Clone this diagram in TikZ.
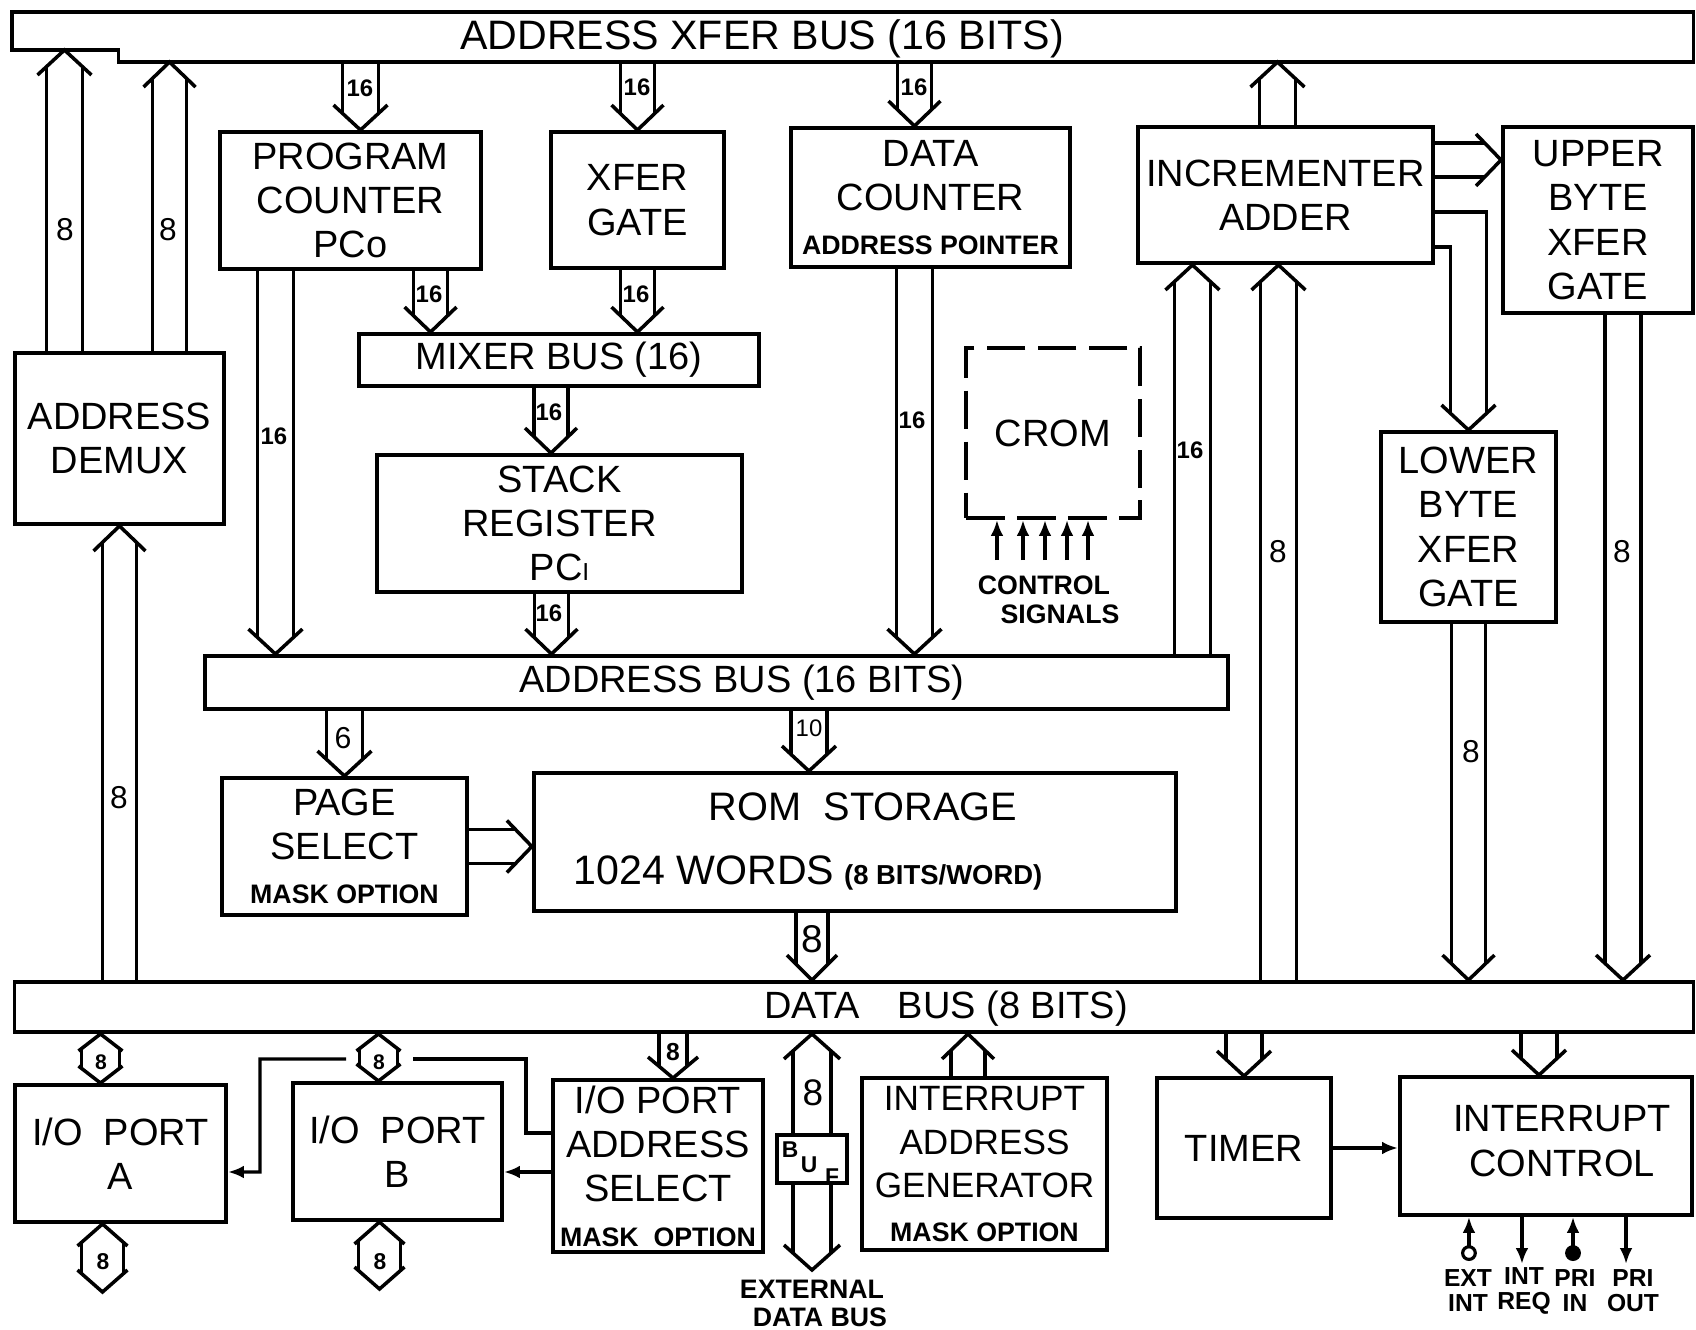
\documentclass[tikz,border=0pt]{standalone}
\usepackage{fontspec}
\setmainfont{Liberation Sans}
\usetikzlibrary{calc, arrows.meta}

\newcommand{\lbl}{\fontsize{10.8}{12.6}\selectfont}
\newcommand{\smallb}{\fontsize{7.6}{9}\selectfont\bfseries}
\newcommand{\bitfont}{\fontsize{6.8}{7}\selectfont\bfseries}
\newcommand{\numfont}{\fontsize{9}{10}\selectfont}

% fat (bus) arrows: shaft half width, head overhang, head length (px)
\newcommand{\bawx}{9}
\newcommand{\bal}{25}
\newcommand{\bushead}[3][18]{%
  \pgfmathsetlengthmacro{\baws}{#1*0.01cm}%
  \pgfmathsetlengthmacro{\bawh}{(#1+\bawx)*0.01cm}%
  \pgfmathsetlengthmacro{\bahl}{\bal*0.01cm}%
  \pgfmathsetlengthmacro{\bajl}{\bal*#1/(#1+\bawx)*0.01cm}%
  \coordinate (ba-s) at (#2);
  \coordinate (ba-t) at (#3);
  \coordinate (ba-j) at ($(ba-t)!\bajl!(ba-s)$);
  \coordinate (ba-b) at ($(ba-t)!\bahl!(ba-s)$);
  \coordinate (ba-jp) at ($(ba-j)!\baws!90:(ba-t)$);
  \coordinate (ba-jm) at ($(ba-j)!\baws!-90:(ba-t)$);
  \coordinate (ba-sp) at ($(ba-s)!\baws!90:(ba-t)$);
  \coordinate (ba-sm) at ($(ba-s)!\baws!-90:(ba-t)$);
  \draw[busline] ($(ba-b)!\bawh!90:(ba-t)$) -- (ba-t) -- ($(ba-b)!\bawh!-90:(ba-t)$);
}
\newcommand{\busarrow}[3][18]{%
  \bushead[#1]{#2}{#3}%
  \draw[busline] (ba-sp) -- (ba-jp) (ba-sm) -- (ba-jm);
}
\newcommand{\busboth}[3][18]{%
  \bushead[#1]{#2}{#3}%
  \coordinate (bb-jp) at (ba-jp);
  \coordinate (bb-jm) at (ba-jm);
  \bushead[#1]{#3}{#2}%
  \draw[busline] (bb-jp) -- (ba-jm) (bb-jm) -- (ba-jp);
}

\begin{document}
\begin{tikzpicture}[x=0.01cm, y=-0.01cm,
    box/.style={draw, line width=1.1pt, inner sep=1pt, align=center, font=\lbl},
    bus/.style={draw, line width=1.1pt, inner sep=0pt},
    buspath/.style={line width=1.1pt, line join=miter},
    busline/.style={line width=1pt, line join=miter},
    sigline/.style={line width=0.9pt},
    sigarrow/.style={sigline, -{Latex[length=4.5pt,width=3.6pt]}},
    bitlbl/.style={font=\bitfont, inner sep=0pt},
    numlbl/.style={font=\numfont, inner sep=0pt},
    smalltxt/.style={font=\smallb, inner sep=0pt, align=center}
]
\fill[white] (0,0) rectangle (1696,1330);

% ---------------- buses ----------------
\node[inner sep=0pt, outer sep=0pt, minimum width=15.74cm, minimum height=0.5cm] (xferbus) at (906,37) {};
\coordinate (xfl) at (12,50);
\draw[buspath] (xfl |- xferbus.north) -- (xferbus.north east) -- (xferbus.south east)
    -- (xferbus.south west) -- (xferbus.south west |- xfl) -- (xfl) -- cycle;
\node[font=\fontsize{11.7}{13}\selectfont, inner sep=0pt] (xfertxt) at (762,39) {ADDRESS XFER BUS (16 BITS)};

\node[bus, minimum width=10.23cm, minimum height=0.53cm] (addrbus) at (716.5,682.5) {};
\node[font=\lbl, inner sep=0pt] (abtxt) at (742,683) {ADDRESS BUS (16 BITS)};

\node[bus, minimum width=16.78cm, minimum height=0.50cm] (databus) at (854,1007) {};
\node[font=\lbl, inner sep=0pt] (dbtxt) at (946,1009) {DATA\quad BUS (8 BITS)};

% ---------------- blocks ----------------
\node[box, minimum width=2.09cm, minimum height=1.71cm] (demux) at (119.5,438.5) {ADDRESS\\DEMUX};
\node[box, minimum width=2.61cm, minimum height=1.37cm] (pc) at (350.5,200.5) {PROGRAM\\COUNTER\\PCo};
\node[box, minimum width=1.73cm, minimum height=1.36cm] (xfergate) at (637.5,200) {XFER\\GATE};
\node[box, minimum width=2.79cm, minimum height=1.39cm] (datacnt) at (930.5,197.5) {DATA\\COUNTER\\{\smallb ADDRESS POINTER}};
\node[box, minimum width=2.95cm, minimum height=1.36cm] (incr) at (1285.5,195) {INCREMENTER\\ADDER};
\node[box, minimum width=1.90cm, minimum height=1.86cm] (upper) at (1598,220) {UPPER\\BYTE\\XFER\\GATE};
\node[box, minimum width=4.00cm, minimum height=0.52cm] (mixer) at (559,360) {MIXER BUS (16)};
\node[box, minimum width=3.65cm, minimum height=1.37cm] (stack) at (559.5,523.5) {STACK\\REGISTER\\PC{\fontsize{7}{8}\selectfont I}};
\node[box, dash pattern=on 11pt off 3.5pt, minimum width=1.74cm, minimum height=1.70cm] (crom) at (1053,433) {CROM};
\node[box, minimum width=1.75cm, minimum height=1.90cm] (lower) at (1468.5,527) {LOWER\\BYTE\\XFER\\GATE};
\node[box, minimum width=2.45cm, minimum height=1.37cm] (page) at (344.5,846.5) {PAGE\\SELECT\\{\smallb MASK OPTION}};
\node[box, minimum width=6.42cm, minimum height=1.38cm] (rom) at (855,842) {};
\node[font=\fontsize{11.3}{13}\selectfont, inner sep=0pt] (romtxt) at (863,807) {ROM\ \ STORAGE};
\node[inner sep=0pt] (romwords) at (808,873) {{\fontsize{11.7}{13}\selectfont 1024 WORDS} {\fontsize{7.8}{9}\selectfont\bfseries (8 BITS/WORD)}};

\node[box, minimum width=2.11cm, minimum height=1.37cm] (portA) at (120.5,1153.5) {I/O\ \ PORT\\A};
\node[box, minimum width=2.09cm, minimum height=1.37cm] (portB) at (397.5,1151.5) {I/O\ \ PORT\\B};
\node[box, minimum width=2.10cm, minimum height=1.72cm] (iosel) at (658,1166) {I/O PORT\\ADDRESS\\SELECT\\{\smallb MASK\ \ OPTION}};
\node[box, minimum width=0.70cm, minimum height=0.48cm] (buf) at (812,1159) {};
\node[box, font=\fontsize{10}{12.4}\selectfont, minimum width=2.45cm, minimum height=1.72cm] (intgen) at (984.5,1164) {INTERRUPT\\ADDRESS\\GENERATOR\\{\smallb MASK OPTION}};
\node[box, minimum width=1.74cm, minimum height=1.40cm] (timer) at (1244,1148) {TIMER};
\node[box, minimum width=2.92cm, minimum height=1.38cm] (intctl) at (1546,1146) {};
\node[font=\lbl, align=center, inner sep=0pt] (intctltxt) at (1562,1141) {INTERRUPT\\CONTROL};

% BUF letters
\node[smalltxt, font=\fontsize{6.5}{7}\selectfont\bfseries] (bufB) at (790,1150) {B};
\node[smalltxt, font=\fontsize{6.5}{7}\selectfont\bfseries] (bufU) at (809,1165) {U};
\node[smalltxt, font=\fontsize{6.5}{7}\selectfont\bfseries] (bufF) at (832,1177) {F};

% ---------------- bus arrows, upper half ----------------
\coordinate (dmxl) at ([xshift=-0.55cm]demux.north);
\coordinate (dmxr) at ([xshift=0.5cm]demux.north);
\busarrow{dmxl}{dmxl |- xfl}
\busarrow[17]{dmxr}{dmxr |- xferbus.south}
\busarrow[17]{demux.south |- databus.north}{demux.south}

\coordinate (pcin) at ([xshift=0.1cm]pc.north);
\busarrow{pcin |- xferbus.south}{pcin}
\busarrow[17]{xfergate.north |- xferbus.south}{xfergate.north}
\coordinate (dcin) at ([xshift=-0.16cm]datacnt.north);
\busarrow[17]{dcin |- xferbus.south}{dcin}
\coordinate (incout) at ([xshift=-0.08cm]incr.north);
\busarrow{incout}{incout |- xferbus.south}

\coordinate (incr2up) at ([yshift=0.35cm]incr.east);
\busarrow[17]{incr2up}{incr2up -| upper.west}
% incrementer -> lower byte (bent)
\coordinate (il1) at ([yshift=-0.17cm]incr.east);
\coordinate (il2) at ([yshift=-0.52cm]incr.east);
\bushead{lower.north |- il1}{lower.north}
\draw[busline] (il1) -| (ba-jp);
\draw[busline] (il2) -| (ba-jm);

\coordinate (pcout) at ([xshift=-0.75cm]pc.south);
\busarrow{pcout}{pcout |- addrbus.north}
\coordinate (pcmix) at ([xshift=0.8cm]pc.south);
\busarrow[17]{pcmix}{pcmix |- mixer.north}
\busarrow[17]{xfergate.south}{xfergate.south |- mixer.north}
\coordinate (mixout) at ([xshift=-0.08cm]mixer.south);
\busarrow[17]{mixout}{mixout |- stack.north}
\coordinate (stkout) at ([xshift=-0.08cm]stack.south);
\busarrow[17]{stkout}{stkout |- addrbus.north}
\coordinate (dcout) at ([xshift=-0.16cm]datacnt.south);
\busarrow{dcout}{dcout |- addrbus.north}
\coordinate (incin) at ([xshift=-0.93cm]incr.south);
\busarrow{incin |- addrbus.north}{incin}
\coordinate (incin2) at ([xshift=-0.07cm]incr.south);
\busarrow{incin2 |- databus.north}{incin2}
\coordinate (upout) at ([xshift=0.25cm]upper.south);
\busarrow{upout}{upout |- databus.north}
\busarrow[17]{lower.south}{lower.south |- databus.north}

\busarrow{page.north |- addrbus.south}{page.north}
\coordinate (romin) at ([xshift=-0.46cm]rom.north);
\busarrow{romin |- addrbus.south}{romin}
\busarrow[17]{page.east}{page.east -| rom.west}
\coordinate (romout) at ([xshift=-0.43cm]rom.south);
\busarrow[16]{romout}{romout |- databus.north}

% CROM control signals
\foreach \dx in {-0.56,-0.30,-0.08,0.14,0.35}
    \draw[sigarrow] ([xshift=\dx cm, yshift=-0.4cm]crom.south) -- ([xshift=\dx cm]crom.south);
\node[smalltxt] (ctrl1) at (1044,585) {CONTROL};
\node[smalltxt] (ctrl2) at (1060,614) {SIGNALS};

% ---------------- bus arrows, lower half ----------------
\coordinate (pain) at ([xshift=-0.2cm]portA.north);
\coordinate (pbin) at ([xshift=-0.19cm]portB.north);
\coordinate (paout) at ([xshift=-0.18cm]portA.south);
\coordinate (paext) at ([yshift=-0.68cm]paout);
\coordinate (pbout) at ([xshift=-0.18cm]portB.south);
\coordinate (pbext) at ([yshift=-0.67cm]pbout);
{\renewcommand{\bawx}{3}\renewcommand{\bal}{17}%
 \busboth[19]{pain |- databus.south}{pain}
 \busboth[19]{pbin |- databus.south}{pbin}}
{\renewcommand{\bawx}{4}\renewcommand{\bal}{22}%
 \busboth[21]{paout}{paext}
 \busboth[21]{pbout}{pbext}}

\coordinate (iosin) at ([xshift=0.15cm]iosel.north);
{\renewcommand{\bawx}{11}\renewcommand{\bal}{21}%
 \busarrow[14]{iosin |- databus.south}{iosin}}
\busarrow[19]{buf.north}{buf.north |- databus.south}
\coordinate (bufext) at ([yshift=-0.85cm]buf.south);
\busarrow[19]{buf.south}{bufext}
\coordinate (igout) at ([xshift=-0.165cm]intgen.north);
\busarrow[17]{igout}{igout |- databus.south}
\busarrow{timer.north |- databus.south}{timer.north}
\coordinate (icin) at ([xshift=-0.07cm]intctl.north);
\busarrow{icin |- databus.south}{icin}

% I/O port select lines
\coordinate (isa) at ([yshift=0.33cm]iosel.west);
\coordinate (isb) at ([yshift=-0.06cm]iosel.west);
\coordinate (jog1) at (526,1059);
\coordinate (gapR) at (413,1059);
\coordinate (gapL) at (346,1059);
\coordinate (jog2) at (260,1172);
\draw[sigline] (isa) -| (jog1) -- (gapR);
\draw[sigarrow] (gapL) -| (jog2) -- (portA.east |- isb);
\draw[sigarrow] (isb) -- (isb -| portB.east);

\draw[sigarrow] (timer.east) -- (timer.east -| intctl.west);

% interrupt control pins
\coordinate (iext) at ([xshift=-0.77cm]intctl.south);
\coordinate (ireq) at ([xshift=-0.24cm]intctl.south);
\coordinate (ipin) at ([xshift=0.27cm]intctl.south);
\coordinate (ipout) at ([xshift=0.8cm]intctl.south);
\draw[sigline, {Circle[open,length=4.5pt]}-{Latex[length=4.5pt,width=3.6pt]}] ([yshift=-0.44cm]iext) -- (iext);
\draw[sigarrow] (ireq) -- ([yshift=-0.47cm]ireq);
\draw[sigline, {Circle[length=4.5pt]}-{Latex[length=4.5pt,width=3.6pt]}] ([yshift=-0.44cm]ipin) -- (ipin);
\draw[sigarrow] (ipout) -- ([yshift=-0.47cm]ipout);
\node[smalltxt, font=\fontsize{7}{7.1}\selectfont\bfseries] (lext) at (1468,1291) {EXT\\INT};
\node[smalltxt, font=\fontsize{7}{7.1}\selectfont\bfseries] (lreq) at (1524,1291) {INT\\REQ};
\node[smalltxt, font=\fontsize{7}{7.1}\selectfont\bfseries] (lpin) at (1575,1291) {PRI\\IN};
\node[smalltxt, font=\fontsize{7}{7.1}\selectfont\bfseries] (lpout) at (1633,1291) {PRI\\OUT};

\node[smalltxt] (ext1) at (812,1289) {EXTERNAL};
\node[smalltxt] (ext2) at (820,1317) {DATA BUS};

% ---------------- width labels ----------------
\node[numlbl] (w8a) at (65,230) {8};
\node[numlbl] (w8b) at (168,230) {8};
\node[numlbl] (w8c) at (119,798) {8};
\node[bitlbl] (w16a) at (360,88) {16};
\node[bitlbl] (w16b) at (637,87) {16};
\node[bitlbl] (w16c) at (914,87) {16};
\node[bitlbl] (w16d) at (429,294) {16};
\node[bitlbl] (w16e) at (636,294) {16};
\node[bitlbl] (w16f) at (274,436) {16};
\node[bitlbl] (w16g) at (549,412) {16};
\node[bitlbl] (w16h) at (549,613) {16};
\node[bitlbl] (w16i) at (912,420) {16};
\node[bitlbl] (w16j) at (1190,450) {16};
\node[numlbl] (w8d) at (1278,552) {8};
\node[numlbl] (w8e) at (1622,552) {8};
\node[numlbl] (w8f) at (1471,752) {8};
\node[numlbl, font=\fontsize{8.6}{9}\selectfont] (w6) at (343,738) {6};
\node[numlbl, font=\fontsize{6.8}{7}\selectfont] (w10) at (809,728) {10};
\node[numlbl, font=\fontsize{11}{12}\selectfont] (w8g) at (812,939) {8};
\node[bitlbl, font=\fontsize{6}{7}\selectfont\bfseries] (w8h) at (101,1062) {8};
\node[bitlbl, font=\fontsize{6}{7}\selectfont\bfseries] (w8i) at (379,1062) {8};
\node[bitlbl, font=\fontsize{6.5}{7}\selectfont\bfseries] (w8j) at (103,1262) {8};
\node[bitlbl, font=\fontsize{6.5}{7}\selectfont\bfseries] (w8k) at (380,1262) {8};
\node[bitlbl, font=\fontsize{7}{7}\selectfont\bfseries] (w8l) at (673,1052) {8};
\node[numlbl, font=\fontsize{10.5}{11}\selectfont] (w8m) at (813,1093) {8};

\end{tikzpicture}
\end{document}
